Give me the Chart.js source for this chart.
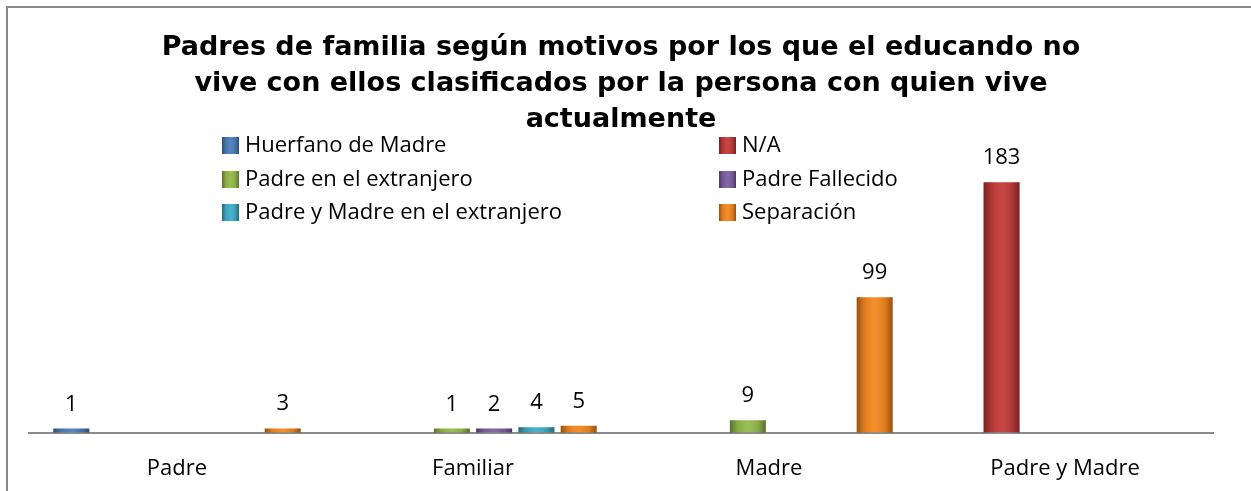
<!DOCTYPE html>
<html>
<head>
<meta charset="utf-8">
<script src="https://cdn.jsdelivr.net/npm/chart.js@4.4.1/dist/chart.umd.min.js"></script>
<style>
  html, body { margin: 0; padding: 0; background: #fff; overflow: hidden; }
  #wrap { position: relative; width: 1251px; height: 505px; }
</style>
</head>
<body>
<div id="wrap"><canvas id="motivosChart"></canvas></div>
<script>
// Datos del gráfico
const categories = ['Padre', 'Familiar', 'Madre', 'Padre y Madre'];
const seriesNames = [
  'Huerfano de Madre',
  'N/A',
  'Padre en el extranjero',
  'Padre Fallecido',
  'Padre y Madre en el extranjero',
  'Separación'
];
const huerfanoMadre = [1, null, null, null];
const noAplica = [null, null, null, 183];
const padreExtranjero = [null, 1, 9, null];
const padreFallecido = [null, 2, null, null];
const padresExtranjero = [null, 4, null, null];
const separacion = [3, 5, 99, null];
const seriesColors = ['#4A7EBB', '#C23B3A', '#94BA4C', '#7D5FA0', '#3FADC8', '#F5871F'];

const seriesData = [huerfanoMadre, noAplica, padreExtranjero, padreFallecido, padresExtranjero, separacion];

const titleLines = [
  'Padres de familia según motivos por los que el educando no',
  'vive con ellos clasificados por la persona con quien vive',
  'actualmente'
];

const labelFont = '22px "Open Sans"';

// Sombreado tipo cilindro sobre cada barra
function shade(ctx, x, y, w, h) {
  const g = ctx.createLinearGradient(x, 0, x + w, 0);
  g.addColorStop(0, 'rgba(0,0,0,0.4)');
  g.addColorStop(0.2, 'rgba(0,0,0,0.1)');
  g.addColorStop(0.5, 'rgba(255,255,255,0.05)');
  g.addColorStop(0.8, 'rgba(0,0,0,0.1)');
  g.addColorStop(1, 'rgba(0,0,0,0.4)');
  ctx.fillStyle = g;
  ctx.fillRect(x, y, w, h);
}

// Fondo y marco
const framePlugin = {
  id: 'frame',
  beforeDraw(chart) {
    const ctx = chart.ctx;
    ctx.save();
    ctx.fillStyle = '#fff';
    ctx.fillRect(0, 0, chart.width, chart.height);
    ctx.strokeStyle = '#8a8a8a';
    ctx.lineWidth = 2;
    ctx.strokeRect(7, 7, chart.width + 20, chart.height + 20);
    ctx.restore();
  }
};

// Sombreado + etiquetas de valor
const barDecorPlugin = {
  id: 'barDecor',
  afterDatasetsDraw(chart) {
    const ctx = chart.ctx;
    ctx.save();
    chart.data.datasets.forEach((ds, i) => {
      const meta = chart.getDatasetMeta(i);
      meta.data.forEach((bar, j) => {
        const v = ds.data[j];
        if (v === null || v === undefined) return;
        const {x, y, base, width} = bar.getProps(['x', 'y', 'base', 'width'], true);
        shade(ctx, x - width / 2, y, width, base - y);
        ctx.fillStyle = '#000';
        ctx.font = labelFont;
        ctx.textAlign = 'center';
        ctx.textBaseline = 'alphabetic';
        ctx.fillText(String(v), x, y - 18);
      });
    });
    ctx.restore();
  }
};

// Leyenda en dos columnas
const gridLegendPlugin = {
  id: 'gridLegend',
  afterDraw(chart) {
    const ctx = chart.ctx;
    const cols = [222, 719];
    const rows = [145, 179, 212];
    ctx.save();
    ctx.font = labelFont;
    ctx.textBaseline = 'middle';
    ctx.textAlign = 'left';
    chart.data.datasets.forEach((ds, i) => {
      const x = cols[i % 2];
      const y = rows[Math.floor(i / 2)];
      ctx.fillStyle = ds.backgroundColor;
      ctx.fillRect(x, y - 8, 17, 17);
      shade(ctx, x, y - 8, 17, 17);
      ctx.fillStyle = '#000';
      ctx.fillText(ds.label, x + 23, y + 1);
    });
    ctx.restore();
  }
};

const ctx = document.getElementById('motivosChart');

new Chart(ctx, {
  type: 'bar',
  data: {
    labels: categories,
    datasets: seriesNames.map((name, i) => ({
      label: name,
      data: seriesData[i],
      backgroundColor: seriesColors[i],
      borderWidth: 0,
      minBarLength: 4,
      barPercentage: 0.85,
      categoryPercentage: 0.857
    }))
  },
  options: {
    responsive: true,
    maintainAspectRatio: false,
    animation: false,
    layout: {
      padding: { left: 29, right: 38, top: 0, bottom: 0 }
    },
    plugins: {
      legend: { display: false },
      tooltip: { enabled: false },
      title: {
        display: true,
        text: titleLines,
        color: '#000',
        font: { family: '"DejaVu Sans"', size: 27, weight: 'bold', lineHeight: 36 / 27 },
        padding: { top: 30, bottom: 21 }
      }
    },
    scales: {
      x: {
        grid: { display: false, drawTicks: false },
        border: { display: true, color: '#8a8a8a', width: 2 },
        ticks: {
          color: '#000',
          padding: 23,
          font: { family: '"Open Sans"', size: 22 }
        }
      },
      y: {
        display: false,
        min: 0,
        max: 200
      }
    }
  },
  plugins: [framePlugin, barDecorPlugin, gridLegendPlugin]
});
</script>
</body>
</html>
